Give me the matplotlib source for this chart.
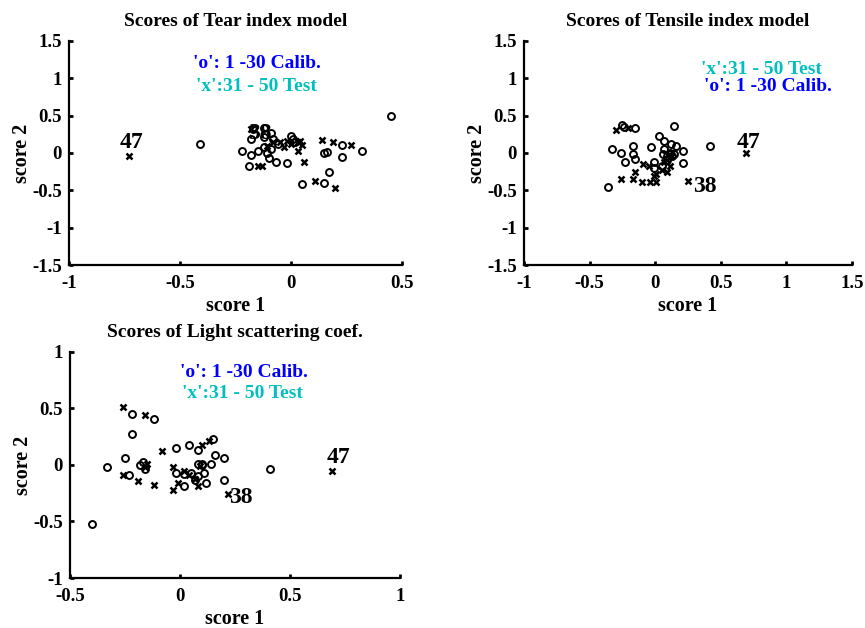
import numpy as np
import matplotlib
matplotlib.use("Agg")
import matplotlib.pyplot as plt

plt.rcParams['font.family'] = ['Liberation Serif', 'DejaVu Serif']
plt.rcParams['font.weight'] = 'bold'

# score plots: calibration samples 1-30 ('o'), test samples 31-50 ('x')
tear_cal_x = [-0.22, -0.18, -0.15, -0.19, -0.10, -0.07, -0.02, 0.05, 0.15, 0.17,
              0.23, 0.32, 0.23, 0.15, 0.16, -0.18, -0.17, -0.12, -0.09, -0.12,
              -0.08, 0.00, 0.02, -0.12, -0.09, -0.06, 0.45, -0.41, -0.11, 0.01]
tear_cal_y = [0.02, -0.03, 0.03, -0.18, -0.07, -0.12, -0.14, -0.42, -0.40, -0.26,
              -0.05, 0.03, 0.10, 0.00, 0.01, 0.19, 0.32, 0.33, 0.27, 0.21,
              0.19, 0.23, 0.14, 0.08, 0.05, 0.12, 0.49, 0.12, 0.00, 0.18]
tear_test_x = [-0.18, -0.15, -0.13, -0.11, -0.08, -0.05, -0.03, 0.03, 0.04, 0.03,
               0.06, 0.14, 0.19, 0.27, 0.11, 0.20, -0.73, 0.00, 0.05, -0.02]
tear_test_y = [0.32, -0.17, -0.17, 0.09, 0.14, 0.14, 0.08, 0.14, 0.16, 0.03,
               -0.12, 0.17, 0.14, 0.10, -0.38, -0.47, -0.04, 0.12, 0.10, 0.16]

tens_cal_x = [-0.36, -0.33, -0.26, -0.25, -0.23, -0.17, -0.17, -0.15, -0.15, -0.03,
              -0.01, 0.03, 0.07, 0.07, 0.12, 0.14, 0.16, 0.21, 0.21, 0.42,
              0.09, 0.11, 0.13, 0.05, 0.09, -0.01, -0.24, 0.11, 0.14, 0.06]
tens_cal_y = [-0.46, 0.05, 0.00, 0.38, -0.12, 0.09, -0.01, 0.33, -0.08, 0.08,
              -0.12, 0.23, 0.16, 0.05, 0.12, 0.36, 0.09, 0.03, -0.14, 0.09,
              -0.04, -0.02, -0.04, -0.17, -0.09, -0.20, 0.35, 0.00, -0.02, -0.01]
tens_test_x = [-0.30, -0.21, -0.26, -0.17, -0.15, -0.10, -0.04, 0.01, -0.09, -0.05,
               0.01, 0.05, 0.09, 0.11, 0.09, 0.12, 0.25, 0.69, -0.01, 0.07]
tens_test_y = [0.31, 0.33, -0.35, -0.35, -0.26, -0.39, -0.39, -0.39, -0.15, -0.17,
               -0.28, -0.23, -0.26, -0.17, -0.09, -0.04, -0.38, 0.00, -0.31, -0.12]

light_cal_x = [-0.40, -0.33, -0.25, -0.23, -0.22, -0.22, -0.17, -0.18, -0.16, -0.12,
               -0.02, -0.02, 0.02, 0.04, 0.05, 0.08, 0.08, 0.10, 0.11, 0.12,
               0.14, 0.15, 0.16, 0.20, 0.20, 0.41, 0.08, 0.07, 0.02, 0.10]
light_cal_y = [-0.52, -0.02, 0.06, -0.09, 0.45, 0.27, 0.03, 0.00, -0.04, 0.41,
               0.15, -0.07, -0.19, 0.18, -0.07, 0.13, 0.01, 0.01, -0.07, -0.16,
               0.01, 0.23, 0.09, -0.13, 0.06, -0.04, -0.10, -0.13, -0.08, 0.00]
light_test_x = [-0.26, -0.16, -0.26, -0.19, -0.15, -0.12, -0.08, -0.03, -0.03, -0.01,
                0.02, 0.04, 0.08, 0.10, 0.13, 0.09, 0.07, 0.22, 0.69, -0.16]
light_test_y = [0.51, 0.44, -0.09, -0.14, 0.01, -0.18, 0.12, -0.22, -0.02, -0.16,
                -0.05, -0.09, -0.19, 0.18, 0.21, -0.01, -0.12, -0.26, -0.05, -0.02]

titles = ['Scores of Tear index model', 'Scores of Tensile index model',
          'Scores of Light scattering coef.']
xlims = [(-1, 0.5), (-1, 1.5), (-0.5, 1)]
ylims = [(-1.5, 1.5), (-1.5, 1.5), (-1, 1)]
xticks = [[-1, -0.5, 0, 0.5], [-1, -0.5, 0, 0.5, 1, 1.5], [-0.5, 0, 0.5, 1]]
yticks = [[-1.5, -1, -0.5, 0, 0.5, 1, 1.5], [-1.5, -1, -0.5, 0, 0.5, 1, 1.5],
          [-1, -0.5, 0, 0.5, 1]]

# index of samples 38 and 47 inside the test arrays
lab_idx = {'38': [0, 16, 17], '47': [16, 17, 18]}
lab_off = {'38': [(-2, -3), (3.6, -3.8), (0.5, -2.5)],
           '47': [(-6.5, 10), (-6.5, 7.5), (-3.4, 9.4)]}

fig = plt.figure(figsize=(8.65, 6.28), dpi=100)
boxes = [[0.0798, 0.578, 0.385, 0.357],
         [0.6058, 0.578, 0.379, 0.357],
         [0.0809, 0.0796, 0.3815, 0.360]]

data = [(tear_cal_x, tear_cal_y, tear_test_x, tear_test_y),
        (tens_cal_x, tens_cal_y, tens_test_x, tens_test_y),
        (light_cal_x, light_cal_y, light_test_x, light_test_y)]

legend_pos = [[(-0.44, 1.19, 'b'), (-0.43, 0.89, 'c')],
              [(0.35, 1.12, 'c'), (0.37, 0.89, 'b')],
              [(0.0, 0.82, 'b'), (0.01, 0.63, 'c')]]
legend_txt = {'b': "'o': 1 -30 Calib.", 'c': "'x':31 - 50 Test"}
legend_col = {'b': '#0000ff', 'c': '#00bfbf'}

for k in range(3):
    ax = fig.add_axes(boxes[k])
    cx, cy, tx, ty = data[k]
    ax.plot(cx, cy, 'o', ls='none', ms=5, mfc='none', mec='k', mew=1.4)
    ax.plot(tx, ty, 'x', ls='none', ms=5, mec='k', mew=1.8)
    for lab in ['38', '47']:
        i = lab_idx[lab][k]
        ax.annotate(lab, (tx[i], ty[i]), xytext=lab_off[lab][k],
                    textcoords='offset points', fontsize=17, fontweight='bold',
                    va='center', ha='left')
    for x, y, c in legend_pos[k]:
        ax.text(x, y, legend_txt[c], color=legend_col[c], fontsize=14,
                fontweight='bold', va='center', ha='left')
    ax.set_xlim(xlims[k])
    ax.set_ylim(ylims[k])
    ax.set_xticks(xticks[k])
    ax.set_yticks(yticks[k])
    ax.set_xticklabels([('%g' % v) for v in xticks[k]])
    ax.set_yticklabels([('%g' % v) for v in yticks[k]])
    ax.spines['top'].set_visible(False)
    ax.spines['right'].set_visible(False)
    for s in ['left', 'bottom']:
        ax.spines[s].set_linewidth(1.6)
    ax.tick_params(direction='in', length=3, width=2, labelsize=13.5)
    ax.tick_params(axis='x', pad=7)
    ax.tick_params(axis='y', pad=5)
    ax.set_title(titles[k], fontsize=14, fontweight='bold', pad=11)
    ax.set_xlabel('score 1', fontsize=14.5, fontweight='bold', labelpad=3)
    ax.set_ylabel('score 2', fontsize=14.5, fontweight='bold', labelpad=0)

fig.savefig('out.png', dpi=100)
